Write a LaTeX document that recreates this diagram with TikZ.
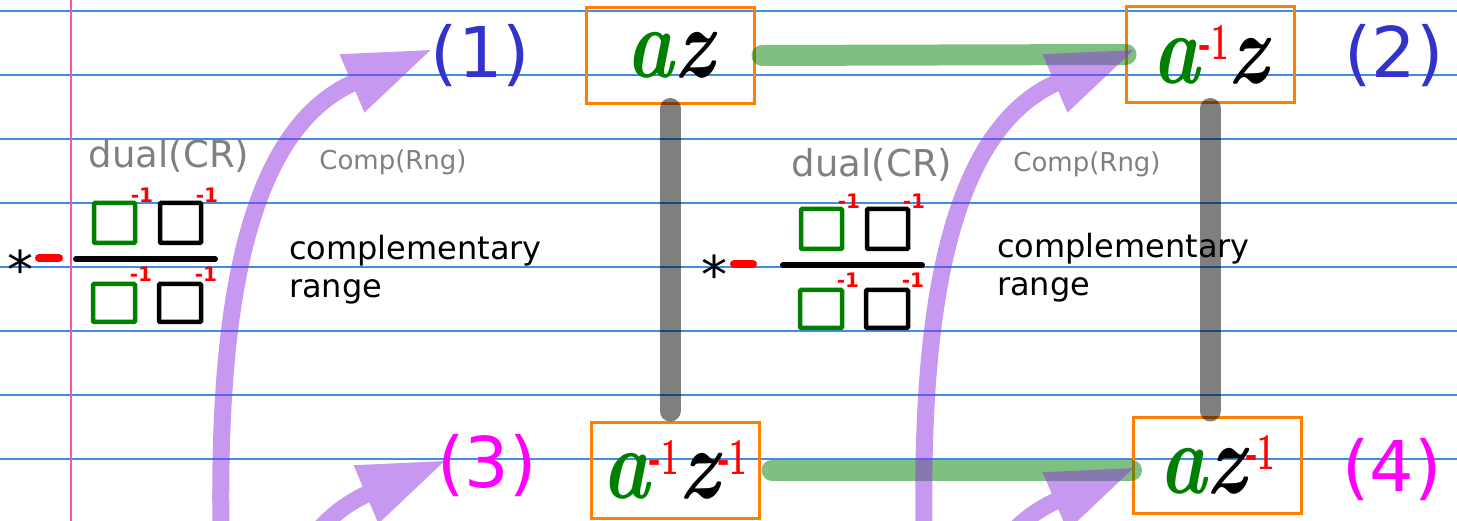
\documentclass[tikz,border=0pt]{standalone}
\usepackage{fontspec}
\setsansfont{DejaVu Sans}
\usetikzlibrary{arrows.meta,calc}

\definecolor{hgreen}{RGB}{0,128,0}
\definecolor{hblue}{RGB}{51,51,204}
\definecolor{hmag}{RGB}{255,0,255}
\definecolor{hgray}{RGB}{128,128,128}
\definecolor{horange}{RGB}{255,128,0}
\definecolor{hpurple}{RGB}{145,50,225}
\definecolor{ruleblue}{RGB}{64,140,230}
\definecolor{margin}{RGB}{255,80,170}

% handwritten letters and red exponents
\newcommand{\hw}[1]{\scalebox{0.8}[1]{\fontsize{100}{100}\selectfont\bfseries\itshape #1}}
\newcommand{\hinv}{\raisebox{24pt}{\scalebox{0.6}[1]{\fontsize{52}{52}\selectfont\bfseries\color{red}-1}}}

\tikzset{
  every node/.style={inner sep=0pt},
  ruleline/.style={draw=ruleblue, line width=1.5pt},
  termbox/.style={draw=horange, line width=3pt, minimum width=168pt, minimum height=96pt},
  caselabel/.style={font=\sffamily\fontsize{70}{84}\selectfont},
  graytext/.style={text=hgray, font=\sffamily\fontsize{37}{44}\selectfont},
  smallgray/.style={text=hgray, font=\sffamily\fontsize{26}{31}\selectfont},
  note/.style={font=\sffamily\fontsize{32}{38}\selectfont, align=left, anchor=north west},
  starmark/.style={font=\sffamily\fontsize{52}{52}\selectfont},
  invmark/.style={text=red, font=\sffamily\bfseries\fontsize{20}{20}\selectfont},
  sq/.style={line width=4.5pt, rounded corners=1pt},
  greylink/.style={draw=black, draw opacity=0.5, line width=21pt, line cap=round},
  greenlink/.style={draw=hgreen, draw opacity=0.5, line width=21pt, line cap=round},
  compflow/.style={draw=hpurple, line width=17pt,
    -{Triangle[length=88pt,width=58pt,quick]}},
}

\begin{document}
\begin{tikzpicture}[x=1pt,y=-1pt]
\clip (0,0) rectangle (1457,521);
\fill[white] (0,0) rectangle (1457,521);

% ruled paper
\foreach \y in {11,75,...,459}
  \draw[ruleline] (0,\y) -- (1457,\y);
\draw[draw=margin, line width=2.5pt] (71,0) -- (71,521);

% dual of the complementary range, twice
\node[graytext] (dualL) at (169,156) {dual(CR)};
\node[graytext] (dualR) at (872,165) {dual(CR)};
\node[starmark] (starL) at (20,269) {*};
\node[starmark] (starR) at (714,274) {*};
\draw[red, line width=8pt, line cap=round] (39,258) -- (59,258);
\draw[red, line width=8pt, line cap=round] (734,264) -- (753,264);
\foreach \g/\dx/\dy in {L/73/259, R/780/265} {
  \begin{scope}[shift={(\dx,\dy)}]
    \draw[line width=6pt, line cap=round] (3,0) -- (142,0);
    \draw[sq, draw=hgreen] (21,-56) rectangle ++(41,40);
    \draw[sq] (87,-56) rectangle ++(41,40);
    \draw[sq, draw=hgreen] (20,25) rectangle ++(42,38);
    \draw[sq] (86,25) rectangle ++(42,38);
    \node[invmark] (inv\g1) at (69,-64) {-1};
    \node[invmark] (inv\g2) at (134,-64) {-1};
    \node[invmark] (inv\g3) at (68,15) {-1};
    \node[invmark] (inv\g4) at (133,15) {-1};
  \end{scope}
}

\node[smallgray] (compL) at (393,162) {Comp(Rng)};
\node[smallgray] (compR) at (1087,164) {Comp(Rng)};
\node[note] (crL) at (289,235) {complementary\\range};
\node[note] (crR) at (997,233) {complementary\\range};

% the four terms
\node[termbox] (az) at (670,55.5) {\hw{\textcolor{hgreen}{a}z}};
\node[termbox] (aiz) at (1210,54.5) {\hw{\textcolor{hgreen}{a}}\hinv\hw{z}};
\node[termbox] (aizi) at (675,470) {\hw{\textcolor{hgreen}{a}}\hinv\hw{z}\hinv};
\node[termbox] (azi) at (1217.5,465) {\hw{\textcolor{hgreen}{a}z}\hinv};

\node[caselabel, text=hblue] (n1) at (480.5,56) {(1)};
\node[caselabel, text=hblue] (n2) at (1394,56) {(2)};
\node[caselabel, text=hmag] (n3) at (487,466) {(3)};
\node[caselabel, text=hmag] (n4) at (1392,470) {(4)};

% links
\draw[greylink, shorten <=3.5pt, shorten >=9.5pt] (az.south) -- (az.south |- aizi.north);
\draw[greylink, shorten <=4.5pt, shorten >=4.5pt] (aiz.south) -- (aiz.south |- azi.north);
\draw[greenlink, shorten <=6.5pt, shorten >=-1.5pt] (az.east) -- (aiz.west);
\draw[greenlink, shorten <=11.5pt, shorten >=0.5pt] (aizi.east) -- (aizi.east -| azi.west);

% Comp(Rng) arrows
\coordinate (foot1) at (221,530);  \coordinate (tip1) at (433,49);
\coordinate (foot2) at (924,530);  \coordinate (tip2) at (1136,49);
\coordinate (foot3) at (235,941);  \coordinate (tip3) at (447,460);
\coordinate (foot4) at (924,948);  \coordinate (tip4) at (1136,467);
\foreach \k in {1,...,4} {
  \begin{scope}[transparency group, opacity=0.5]
    \draw[compflow] (foot\k) .. controls ($(foot\k)+(-3,-200)$) and ($(tip\k)+(-193,82)$) .. (tip\k);
  \end{scope}
}
\end{tikzpicture}
\end{document}
